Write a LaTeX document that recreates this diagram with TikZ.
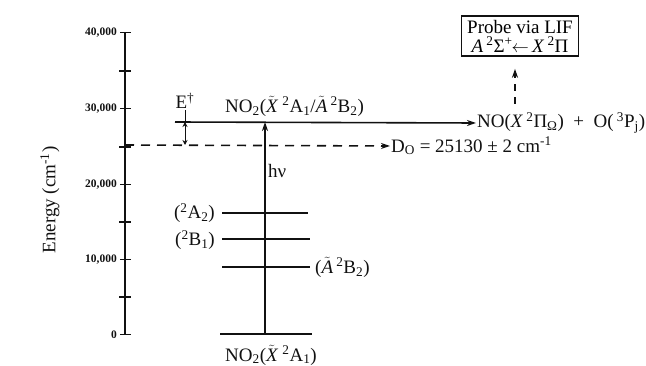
\documentclass[tikz,border=0pt]{standalone}
\usepackage{fontspec}
\setmainfont{Liberation Serif}
\usepackage{amsmath}
\usetikzlibrary{arrows.meta, positioning}
\definecolor{Ink}{HTML}{111111}
\newcommand{\sut}[1]{\textsuperscript{#1}}
\newcommand{\sbt}[1]{\textsubscript{#1}}
\newcommand{\tX}{$\tilde{\text{\itshape X}}$}
\newcommand{\tA}{$\tilde{\text{\itshape A}}$}

\begin{document}
\begin{tikzpicture}[x=1pt, y=-1pt,
  txt/.style={font=\fontsize{19}{21}\selectfont, inner sep=1pt, text=Ink},
  ticklbl/.style={font=\fontsize{11.5}{12}\selectfont\bfseries, anchor=east, inner sep=1pt, text=Ink},
  level/.style={draw=Ink, line width=1.6pt},
  arrow/.style={-{Stealth[length=9pt, width=6pt]}, line width=1.6pt, color=Ink},
  dasharrow/.style={arrow, dash pattern=on 9pt off 7pt},
  probebox/.style={draw=Ink, line width=1.4pt, align=center, inner xsep=6pt, inner ysep=4pt, font=\fontsize{19}{19}\selectfont}
]
\useasboundingbox (0,0) rectangle (646,366);

% energy axis
\coordinate (ax0) at (125,335);
\coordinate (ax40) at (125,33);
\draw[Ink, line width=1.5pt] (ax0) -- (ax40);
\foreach \y/\lbl in {335/0, 260/{10,000}, 185/{20,000}, 109/{30,000}, 33/{40,000}} {
  \draw[Ink, line width=1pt] (120,\y) -- (131,\y);
  \node[ticklbl] at (118,\y) {\lbl};
}
\foreach \y in {71,147,222,297}
  \draw[Ink, line width=1.2pt] (119,\y) -- (131,\y);
\node[txt, rotate=90] (elabel) at (50,200) {Energy (cm\sut{-1})};

% levels
\coordinate (gndL) at (220,334);
\coordinate (gndR) at (312,334);
\draw[level] (gndL) -- (gndR);
\draw[level] (222,213) -- (308,213);
\draw[level] (222,239) -- (310,239);
\draw[level] (222,267) -- (310,267);
\node[txt, anchor=east] (a2) at (216,213) {(\sut{2}A\sbt{2})};
\node[txt, anchor=east] (b1) at (216,240) {(\sut{2}B\sbt{1})};
\node[txt, anchor=west] (b2) at (314,267) {(\tA\,\sut{2}B\sbt{2})};
\node[txt, anchor=west] (gnd) at (224,355) {NO\sbt{2}(\tX\ \sut{2}A\sbt{1})};

% excited level and products
\coordinate (upL) at (175,122);
\coordinate (hvtop) at (265,122);
\coordinate (hvbot) at (265,334);
\node[txt, anchor=west] (prod) at (476,123) {NO(\textit{X}\,\sut{2}Π\sbt{Ω})\ \ +\ \ O(\,\sut{3}P\sbt{j})};
\draw[arrow] (upL) -- (prod.west);
\node[txt, anchor=west] (upper) at (224,106) {NO\sbt{2}(\tX\ \sut{2}A\sbt{1}/\tA\,\sut{2}B\sbt{2})};
\draw[arrow] (hvbot) -- (hvtop);
\node[txt, anchor=west] (hv) at (267,171) {hν};

% dissociation threshold
\coordinate (d0L) at (125,145);
\node[txt, anchor=west] (d0) at (390,146) {D\sbt{O} = 25130 ± 2 cm\sut{-1}};
\draw[dasharrow] (d0L) -- (d0.west);

% excess energy
\coordinate (eup) at (185,122);
\coordinate (edn) at (185,145);
\draw[{Stealth[length=5pt, width=5pt]}-{Stealth[length=5pt, width=5pt]}, Ink, line width=1pt] (eup) -- (edn);
\node[txt] (edag) at (185,101) {E\sut{†}};
\draw[Ink, line width=1pt] (edag.south) -- (eup);

% probe
\node[probebox] (probe) at (520,36) {Probe via LIF\\\textit{A}\,\sut{2}Σ\sut{+}\hspace{-1pt}$\leftarrow$\,\textit{X}\,\sut{2}Π};
\coordinate (prbot) at (515,104);
\draw[dasharrow, line width=2.6pt, dash pattern=on 7pt off 6pt, shorten >=12pt] (prbot) -- (probe.south -| prbot);
\end{tikzpicture}
\end{document}
